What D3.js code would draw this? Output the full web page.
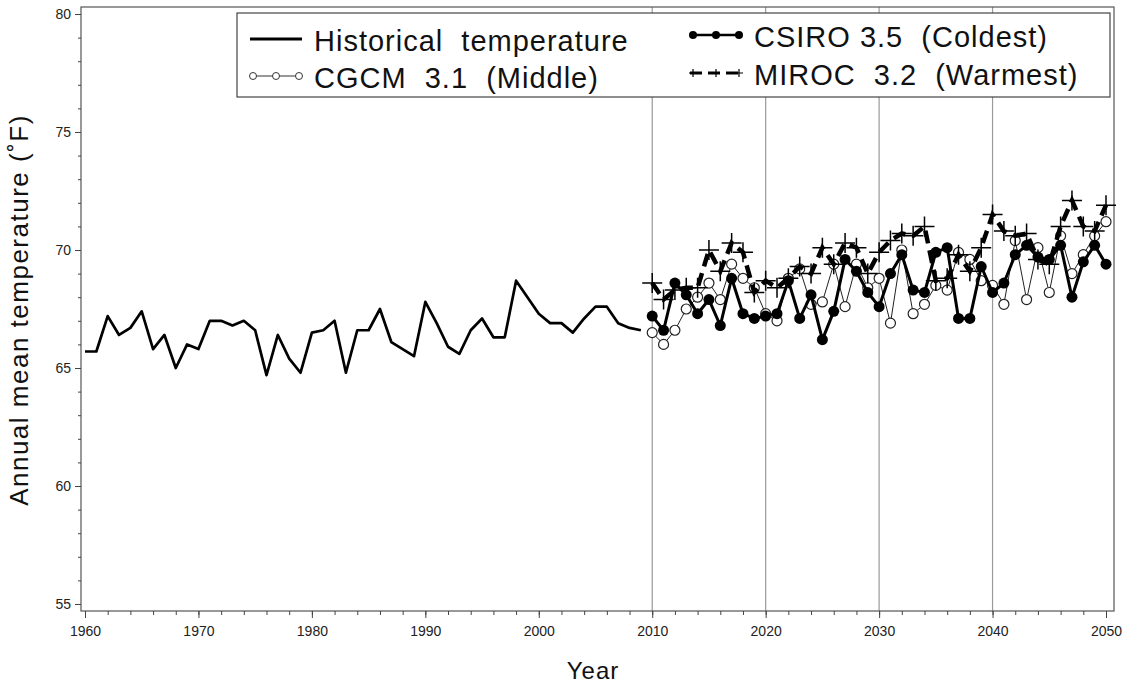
<!DOCTYPE html>
<html>
<head>
<meta charset="utf-8">
<script src="https://cdn.jsdelivr.net/npm/d3@7"></script>
<style>
  body { margin: 0; background: #fff; }
  svg { display: block; }
  .tick text { font-family: "Liberation Sans Narrow", "Arial Narrow", "Liberation Sans", sans-serif; fill: #222; }
</style>
</head>
<body>
<div id="chart_area"></div>
<script>
// historical record 1960-2009
var histYears = d3.range(1960, 2010);
var histTemp = [65.7, 65.7, 67.2, 66.4, 66.7, 67.4, 65.8, 66.4, 65.0, 66.0,
                65.8, 67.0, 67.0, 66.8, 67.0, 66.6, 64.7, 66.4, 65.4, 64.8,
                66.5, 66.6, 67.0, 64.8, 66.6, 66.6, 67.5, 66.1, 65.8, 65.5,
                67.8, 66.9, 65.9, 65.6, 66.6, 67.1, 66.3, 66.3, 68.7, 68.0,
                67.3, 66.9, 66.9, 66.5, 67.1, 67.6, 67.6, 66.9, 66.7, 66.6];

// projections 2010-2050
var projYears = d3.range(2010, 2051);
var cgcm = [66.5, 66.0, 66.6, 67.5, 68.0, 68.6, 67.9, 69.4, 68.8, 68.4,
            67.3, 67.0, 68.8, 69.2, 67.7, 67.8, 69.4, 67.6, 69.4, 68.4,
            68.8, 66.9, 70.0, 67.3, 67.7, 68.5, 68.3, 69.9, 69.6, 68.7,
            68.5, 67.7, 70.4, 67.9, 70.1, 68.2, 70.6, 69.0, 69.8, 70.6, 71.2];
var csiro = [67.2, 66.6, 68.6, 68.1, 67.3, 67.9, 66.8, 68.8, 67.3, 67.1,
             67.2, 67.3, 68.7, 67.1, 68.1, 66.2, 67.4, 69.6, 69.1, 68.2,
             67.6, 69.0, 69.8, 68.3, 68.2, 69.9, 70.1, 67.1, 67.1, 69.3,
             68.2, 68.6, 69.8, 70.2, 69.7, 69.6, 70.2, 68.0, 69.5, 70.2, 69.4];
var miroc = [68.6, 67.9, 68.3, 68.4, 68.4, 70.0, 69.1, 70.3, 69.9, 68.2,
             68.7, 68.4, 68.8, 69.3, 69.0, 70.1, 69.4, 70.3, 70.1, 69.0,
             69.9, 70.4, 70.7, 70.6, 71.0, 68.7, 68.8, 69.8, 69.1, 70.1,
             71.5, 70.8, 70.6, 70.7, 69.6, 69.4, 71.0, 72.1, 71.0, 70.8, 71.9];

var xTicks = [1960, 1970, 1980, 1990, 2000, 2010, 2020, 2030, 2040, 2050];
var yTicks = [55, 60, 65, 70, 75, 80];
var gridYears = [2010, 2020, 2030, 2040];

var W = 1132, H = 686;
var frame = {left: 81, right: 1114, top: 7, bottom: 611};

var svg = d3.select("#chart_area")
    .append("svg")
        .attr("width", W)
        .attr("height", H);

var x = d3.scaleLinear().domain([1960, 2050]).range([85, 1106]);
var y = d3.scaleLinear().domain([55, 80]).range([604, 14]);

//grid lines
svg.selectAll(".grid")
    .data(gridYears)
    .enter().append("line")
        .attr("x1", function(d){ return x(d); })
        .attr("x2", function(d){ return x(d); })
        .attr("y1", frame.top)
        .attr("y2", frame.bottom)
        .attr("stroke", "#9a9a9a")
        .attr("stroke-width", 1.2);

//frame
svg.append("rect")
    .attr("x", frame.left)
    .attr("y", frame.top)
    .attr("width", frame.right - frame.left)
    .attr("height", frame.bottom - frame.top)
    .attr("fill", "none")
    .attr("stroke", "#555")
    .attr("stroke-width", 1.2);

//y axis
var yAxis = d3.axisLeft(y).tickValues(yTicks).tickSize(6).tickPadding(4);
svg.append("g")
    .attr("transform", "translate(" + frame.left + ",0)")
    .call(yAxis)
    .call(function(g){
        g.select(".domain").remove();
        g.selectAll("text").attr("font-size", "14px");
        g.selectAll("line").attr("stroke", "#444");
    });
var yMinor = d3.axisLeft(y).tickValues(d3.range(55, 80.5, 1)).tickSize(3).tickFormat("");
svg.append("g")
    .attr("transform", "translate(" + frame.left + ",0)")
    .call(yMinor)
    .call(function(g){
        g.select(".domain").remove();
        g.selectAll("line").attr("stroke", "#444");
    });

//x axis
var xAxis = d3.axisBottom(x).tickValues(xTicks).tickSize(7).tickPadding(8).tickFormat(d3.format("d"));
svg.append("g")
    .attr("transform", "translate(0," + frame.bottom + ")")
    .call(xAxis)
    .call(function(g){
        g.select(".domain").remove();
        g.selectAll("text").attr("font-size", "14px");
        g.selectAll("line").attr("stroke", "#444");
    });
var xMinor = d3.axisBottom(x).tickValues(d3.range(1960, 2051, 2)).tickSize(4).tickFormat("");
svg.append("g")
    .attr("transform", "translate(0," + frame.bottom + ")")
    .call(xMinor)
    .call(function(g){
        g.select(".domain").remove();
        g.selectAll("line").attr("stroke", "#444");
    });

//axis titles
svg.append("text")
    .attr("x", -310)
    .attr("y", 28)
    .attr("transform", "rotate(-90)")
    .attr("text-anchor", "middle")
    .attr("font-family", "Liberation Sans, Arial, sans-serif")
    .attr("font-size", "26px")
    .attr("letter-spacing", "1.5px")
    .attr("fill", "#111")
    .text("Annual mean temperature (˚F)");

svg.append("text")
    .attr("x", 593)
    .attr("y", 679)
    .attr("text-anchor", "middle")
    .attr("font-family", "Liberation Sans, Arial, sans-serif")
    .attr("font-size", "24px")
    .attr("letter-spacing", "1px")
    .attr("fill", "#111")
    .text("Year");

var line = d3.line()
    .x(function(d){ return x(d[0]); })
    .y(function(d){ return y(d[1]); });

function pairs(years, vals){
    return years.map(function(yr, i){ return [yr, vals[i]]; });
}

var histData = pairs(histYears, histTemp);
var cgcmData = pairs(projYears, cgcm);
var csiroData = pairs(projYears, csiro);
var mirocData = pairs(projYears, miroc);

//historical
svg.append("path")
    .datum(histData)
    .attr("d", line)
    .attr("fill", "none")
    .attr("stroke", "#000")
    .attr("stroke-width", 2.7)
    .attr("stroke-linejoin", "round");

//CGCM 3.1
svg.append("path")
    .datum(cgcmData)
    .attr("d", line)
    .attr("fill", "none")
    .attr("stroke", "#222")
    .attr("stroke-width", 1);
svg.selectAll(".cgcm")
    .data(cgcmData)
    .enter().append("circle")
        .attr("cx", function(d){ return x(d[0]); })
        .attr("cy", function(d){ return y(d[1]); })
        .attr("r", 5)
        .attr("fill", "#fff")
        .attr("stroke", "#222")
        .attr("stroke-width", 1.2);

//CSIRO 3.5
svg.append("path")
    .datum(csiroData)
    .attr("d", line)
    .attr("fill", "none")
    .attr("stroke", "#000")
    .attr("stroke-width", 3)
    .attr("stroke-linejoin", "round");
svg.selectAll(".csiro")
    .data(csiroData)
    .enter().append("circle")
        .attr("cx", function(d){ return x(d[0]); })
        .attr("cy", function(d){ return y(d[1]); })
        .attr("r", 5.5)
        .attr("fill", "#000");

//MIROC 3.2
svg.append("path")
    .datum(mirocData)
    .attr("d", line)
    .attr("fill", "none")
    .attr("stroke", "#000")
    .attr("stroke-width", 4.5)
    .attr("stroke-dasharray", "13,7");
svg.selectAll(".miroc")
    .data(mirocData)
    .enter().append("path")
        .attr("d", "M-10,0H10M0,-10V10")
        .attr("transform", function(d){ return "translate(" + x(d[0]) + "," + y(d[1]) + ")"; })
        .attr("stroke", "#000")
        .attr("stroke-width", 1.5);

//legend
var lg = svg.append("g");
lg.append("rect")
    .attr("x", 237)
    .attr("y", 13)
    .attr("width", 873)
    .attr("height", 84)
    .attr("fill", "#fff")
    .attr("stroke", "#444")
    .attr("stroke-width", 1.2);

var legendItems = [
    {label: "Historical  temperature", kind: "hist", lx: 250, ly: 39},
    {label: "CGCM  3.1  (Middle)", kind: "cgcm", lx: 250, ly: 76},
    {label: "CSIRO 3.5  (Coldest)", kind: "csiro", lx: 690, ly: 35},
    {label: "MIROC  3.2  (Warmest)", kind: "miroc", lx: 690, ly: 73}
];

legendItems.forEach(function(it){
    var g = lg.append("g");
    var x0 = it.lx, x1 = it.lx + 52;
    if (it.kind == "hist") {
        g.append("line").attr("x1", x0).attr("x2", x1).attr("y1", it.ly).attr("y2", it.ly)
            .attr("stroke", "#000").attr("stroke-width", 3);
    } else if (it.kind == "cgcm") {
        g.append("line").attr("x1", x0).attr("x2", x1).attr("y1", it.ly).attr("y2", it.ly)
            .attr("stroke", "#333").attr("stroke-width", 1);
        [x0 + 3, x0 + 26, x1 - 3].forEach(function(cx){
            g.append("circle").attr("cx", cx).attr("cy", it.ly).attr("r", 3.5)
                .attr("fill", "#fff").attr("stroke", "#333").attr("stroke-width", 1);
        });
    } else if (it.kind == "csiro") {
        g.append("line").attr("x1", x0).attr("x2", x1).attr("y1", it.ly).attr("y2", it.ly)
            .attr("stroke", "#000").attr("stroke-width", 2.5);
        [x0 + 3, x0 + 26, x1 - 3].forEach(function(cx){
            g.append("circle").attr("cx", cx).attr("cy", it.ly).attr("r", 4)
                .attr("fill", "#000");
        });
    } else {
        g.append("line").attr("x1", x0).attr("x2", x1).attr("y1", it.ly).attr("y2", it.ly)
            .attr("stroke", "#000").attr("stroke-width", 3).attr("stroke-dasharray", "12,6");
        [x0 + 3, x0 + 26, x1 - 3].forEach(function(cx){
            g.append("path").attr("d", "M-4,0H4M0,-4V4")
                .attr("transform", "translate(" + cx + "," + it.ly + ")")
                .attr("stroke", "#000").attr("stroke-width", 1.2);
        });
    }
    g.append("text")
        .attr("x", x1 + 12)
        .attr("y", it.ly + 12)
        .attr("font-family", "Liberation Sans, Arial, sans-serif")
        .attr("font-size", "29px")
        .attr("letter-spacing", "1px")
        .attr("fill", "#111")
        .style("white-space", "pre")
        .text(it.label);
});
</script>
</body>
</html>
